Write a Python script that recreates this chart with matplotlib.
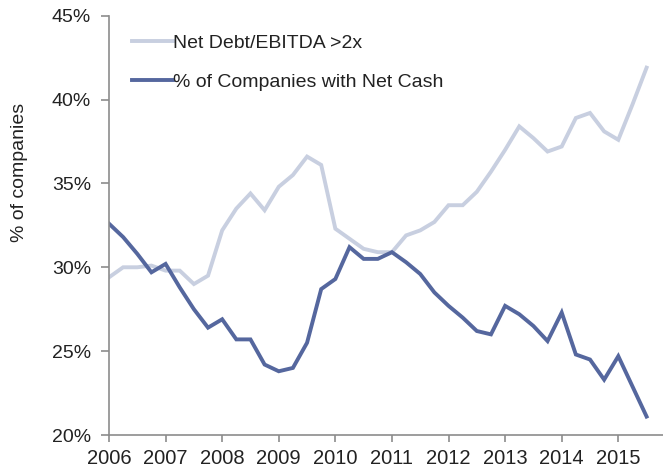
import numpy as np
import matplotlib
matplotlib.use("Agg")
import matplotlib.pyplot as plt
from matplotlib.ticker import FuncFormatter

plt.rcParams['font.family'] = ['Liberation Sans', 'DejaVu Sans']

# quarterly observations, 2006 Q1 .. 2015 Q3
quarters = np.arange(2006, 2015.51, 0.25)

net_debt_ebitda = [29.4, 30.0, 30.0, 30.1, 29.8, 29.8, 29.0, 29.5,
                   32.2, 33.5, 34.4, 33.4, 34.8, 35.5, 36.6, 36.1,
                   32.3, 31.7, 31.1, 30.9, 30.9, 31.9, 32.2, 32.7,
                   33.7, 33.7, 34.5, 35.7, 37.0, 38.4, 37.7, 36.9,
                   37.2, 38.9, 39.2, 38.1, 37.6, 39.7, 41.9]

net_cash = [32.6, 31.8, 30.8, 29.7, 30.2, 28.8, 27.5, 26.4,
            26.9, 25.7, 25.7, 24.2, 23.8, 24.0, 25.5, 28.7,
            29.3, 31.2, 30.5, 30.5, 30.9, 30.3, 29.6, 28.5,
            27.7, 27.0, 26.2, 26.0, 27.7, 27.2, 26.5, 25.6,
            27.3, 24.8, 24.5, 23.3, 24.7, 22.9, 21.1]

year_ticks = list(range(2006, 2016))

fig = plt.figure(figsize=(6.63, 4.68), dpi=100)
ax = fig.add_axes([0.1644, 0.0705, 0.8356, 0.896])

ax.plot(quarters, net_debt_ebitda, color='#c8cfe0', linewidth=2.8,
        label='Net Debt/EBITDA >2x', solid_joinstyle='miter')
ax.plot(quarters, net_cash, color='#55679e', linewidth=2.8,
        label='% of Companies with Net Cash', solid_joinstyle='miter')

ax.set_xlim(2006, 2015.79)
ax.set_ylim(20, 45)
ax.set_xticks(year_ticks)
ax.set_xticklabels([str(y) for y in year_ticks])
ax.set_yticks([20, 25, 30, 35, 40, 45])
ax.yaxis.set_major_formatter(FuncFormatter(lambda v, p: f"{v:.0f}%"))

for s in ['top', 'right']:
    ax.spines[s].set_visible(False)
for s in ['left', 'bottom']:
    ax.spines[s].set_color('#8c8c8c')
    ax.spines[s].set_linewidth(1.2)
ax.tick_params(axis='both', colors='#8c8c8c', width=1.2, labelcolor='#222222')
ax.tick_params(axis='x', length=5, pad=5, labelsize=14.5)
ax.tick_params(axis='y', length=6, pad=7, labelsize=14)

fig.text(20 / 663, 1 - 172 / 468, '% of companies', rotation=90,
         ha='center', va='center', fontsize=14, color='#222222')

leg = ax.legend(loc='upper left', bbox_to_anchor=(0.027, 0.975), frameon=False,
                fontsize=14, handlelength=2.1, handletextpad=0.0,
                labelspacing=1.1, borderaxespad=0)
for t in leg.get_texts():
    t.set_color('#222222')

fig.savefig('out.png', dpi=100)
plt.close(fig)
